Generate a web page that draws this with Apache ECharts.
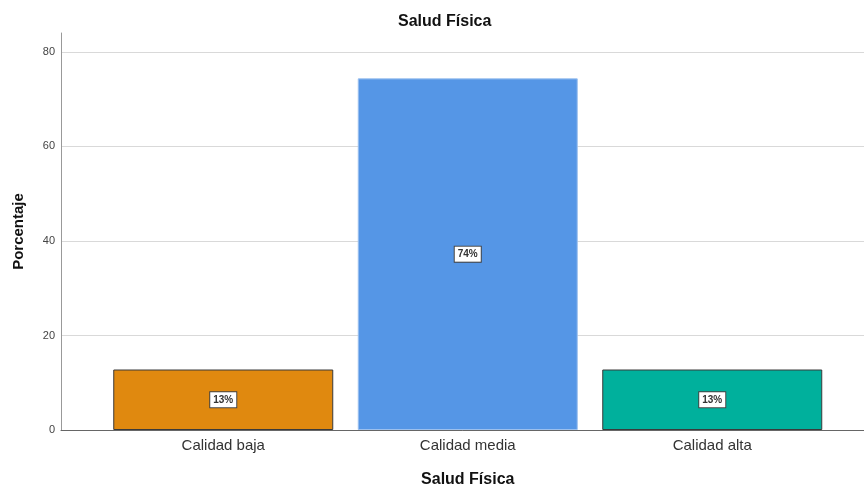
<!DOCTYPE html>
<html>
<head>
<meta charset="utf-8">
<script src="https://cdn.jsdelivr.net/npm/echarts@6/dist/echarts.min.js"></script>
<style>
  html, body { margin: 0; padding: 0; background: #fff; }
  #chart { width: 864px; height: 486px; }
</style>
</head>
<body>
<div id="chart"></div>
<script>
// datos
var categorias = ['Calidad baja', 'Calidad media', 'Calidad alta'];
var porcentajes = [12.8, 74.4, 12.8];
var etiquetas = ['13%', '74%', '13%'];
var colores = ['#e0890f', '#5596e6', '#00b09c'];
var bordes = ['#3a3a3a', '#9cc0ee', '#3a3a3a'];
var ticksY = [0, 20, 40, 60, 80];

var myChart = echarts.init(document.getElementById('chart'));
var fuente = 'Liberation Sans, Arial, sans-serif';

var option = {
  animation: false,
  title: {
    text: 'Salud Física',
    left: 393,
    top: 9,
    textStyle: { fontFamily: fuente, fontSize: 16, fontWeight: 'bold', color: '#111' }
  },
  grid: [
    { left: 101, right: 29.5, top: 33, bottom: 56, outerBoundsMode: 'none' },
    { left: 61, right: -10, top: 33, bottom: 56, outerBoundsMode: 'none' }
  ],
  xAxis: [
    {
      type: 'category',
      gridIndex: 0,
      data: categorias,
      axisLine: { show: false },
      axisTick: { show: false },
      axisLabel: { fontFamily: fuente, fontSize: 15, color: '#333', margin: 8 },
      name: 'Salud Física',
      nameLocation: 'middle',
      nameGap: 42,
      nameTextStyle: { fontFamily: fuente, fontSize: 16, fontWeight: 'bold', color: '#111' }
    },
    {
      type: 'category',
      gridIndex: 1,
      data: [''],
      axisLine: { show: true, lineStyle: { color: '#666', width: 1 } },
      axisTick: { show: false },
      axisLabel: { show: false }
    }
  ],
  yAxis: [
    { type: 'value', gridIndex: 0, min: 0, max: 84, show: false },
    {
      type: 'value',
      gridIndex: 1,
      min: 0,
      max: 84,
      interval: 20,
      axisLine: { show: true, lineStyle: { color: '#999', width: 1 } },
      axisTick: { show: false },
      axisLabel: {
        fontFamily: fuente, fontSize: 11, color: '#444', margin: 6,
        formatter: function (v) { return ticksY.indexOf(v) >= 0 ? String(v) : ''; }
      },
      splitLine: {
        show: true,
        lineStyle: { color: ['#d9d9d9', '#d9d9d9', '#d9d9d9', '#d9d9d9', '#d9d9d9', 'rgba(0,0,0,0)'], width: 1 }
      },
      name: 'Porcentaje',
      nameLocation: 'middle',
      nameGap: 35,
      nameTextStyle: { fontFamily: fuente, fontSize: 15, fontWeight: 'bold', color: '#111' }
    }
  ],
  series: [
    {
      type: 'bar',
      xAxisIndex: 0,
      yAxisIndex: 0,
      barWidth: 220,
      data: porcentajes.map(function (v, i) {
        return {
          value: v,
          itemStyle: { color: colores[i], borderColor: bordes[i], borderWidth: 1 }
        };
      }),
      label: {
        show: true,
        position: 'inside',
        formatter: function (p) { return etiquetas[p.dataIndex]; },
        fontFamily: fuente,
        fontSize: 10,
        fontWeight: 'bold',
        color: '#333',
        backgroundColor: '#fff',
        borderColor: '#444',
        borderWidth: 1,
        padding: [3, 3, 2, 3]
      }
    }
  ]
};

myChart.setOption(option);
</script>
</body>
</html>
